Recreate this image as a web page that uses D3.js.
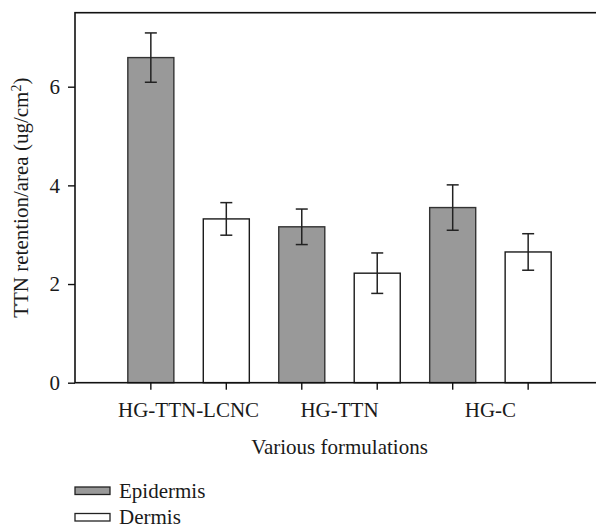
<!DOCTYPE html>
<head>
  <meta charset="utf-8">
  <title>TTN retention</title>
  <script src="https://cdn.jsdelivr.net/npm/d3@7/dist/d3.min.js"></script>
  <style>
    body { margin: 0; background: #fff; }
    text { font-family: "Liberation Serif", "Times New Roman", serif; fill: #1a1a1a; }
  </style>
</head>

<body>
  <script type="text/javascript">
    var WIDTH = 596;
    var HEIGHT = 528;

    // data
    var groups = ["HG-TTN-LCNC", "HG-TTN", "HG-C"];
    var layers = ["Epidermis", "Dermis"];
    var epidermis = [6.59, 3.16, 3.55];
    var epidermisErr = [0.50, 0.36, 0.46];
    var dermis = [3.32, 2.22, 2.65];
    var dermisErr = [0.33, 0.41, 0.37];
    var yTicks = [0, 2, 4, 6];

    var fills = { "Epidermis": "#999999", "Dermis": "#ffffff" };
    var strokes = { "Epidermis": "#333333", "Dermis": "#1a1a1a" };

    // one row per bar, group by group
    var bars = [];
    groups.forEach(function(g, i) {
      bars.push({ group: g, layer: "Epidermis", key: g + "|E", value: epidermis[i], err: epidermisErr[i] });
      bars.push({ group: g, layer: "Dermis", key: g + "|D", value: dermis[i], err: dermisErr[i] });
    });

    var plotL = 75, plotR = 604, plotT = 12.7, plotB = 382.7;

    var svg = d3.select("body").append("svg")
                .attr("width", WIDTH)
                .attr("height", HEIGHT);

    var x = d3.scaleBand()
              .domain(bars.map(function(d){ return d.key; }))
              .range([plotL, plotR])
              .paddingInner(0.39)
              .paddingOuter(0.7);

    var y = d3.scaleLinear()
              .domain([0, 7.5])
              .range([plotB, plotT]);

    //bars
    svg.selectAll("rect.bar")
       .data(bars)
       .enter().append("rect")
       .attr("class", "bar")
       .attr("x", function(d){ return x(d.key); })
       .attr("y", function(d){ return y(d.value); })
       .attr("width", x.bandwidth())
       .attr("height", function(d){ return y(0) - y(d.value); })
       .attr("fill", function(d){ return fills[d.layer]; })
       .attr("stroke", function(d){ return strokes[d.layer]; })
       .attr("stroke-width", 1.4);

    //error bars
    var cap = 6;
    var eb = svg.selectAll("g.err")
                .data(bars)
                .enter().append("g")
                .attr("class", "err")
                .attr("stroke", "#222")
                .attr("stroke-width", 1.5);
    function cx(d){ return x(d.key) + x.bandwidth() / 2; }
    eb.append("line")
      .attr("x1", cx).attr("x2", cx)
      .attr("y1", function(d){ return y(d.value + d.err); })
      .attr("y2", function(d){ return y(d.value - d.err); });
    eb.append("line")
      .attr("x1", function(d){ return cx(d) - cap; })
      .attr("x2", function(d){ return cx(d) + cap; })
      .attr("y1", function(d){ return y(d.value + d.err); })
      .attr("y2", function(d){ return y(d.value + d.err); });
    eb.append("line")
      .attr("x1", function(d){ return cx(d) - cap; })
      .attr("x2", function(d){ return cx(d) + cap; })
      .attr("y1", function(d){ return y(d.value - d.err); })
      .attr("y2", function(d){ return y(d.value - d.err); });

    //frame
    svg.append("rect")
       .attr("x", plotL).attr("y", plotT)
       .attr("width", plotR - plotL).attr("height", plotB - plotT)
       .attr("fill", "none")
       .attr("stroke", "#111")
       .attr("stroke-width", 1.6);

    //axes
    var yAxis = d3.axisLeft(y).tickValues(yTicks).tickSize(7).tickSizeOuter(0).tickPadding(8);
    var gy = svg.append("g").attr("transform", "translate(" + plotL + ",0)").call(yAxis);
    var xAxis = d3.axisBottom(x).tickSize(7).tickSizeOuter(0).tickFormat("");
    var gx = svg.append("g").attr("transform", "translate(0," + plotB + ")").call(xAxis);

    [gy, gx].forEach(function(g) {
      g.select(".domain").remove();
      g.selectAll(".tick line").attr("stroke", "#111").attr("stroke-width", 1.4);
      g.selectAll("text").attr("font-size", 21).attr("fill", "#1a1a1a")
       .attr("font-family", "'Liberation Serif', 'Times New Roman', serif");
    });

    //category labels, centred on each pair
    svg.selectAll("text.cat")
       .data(groups)
       .enter().append("text")
       .attr("class", "cat")
       .attr("x", function(g){
         return (x(g + "|E") + x(g + "|D") + x.bandwidth()) / 2;
       })
       .attr("y", 416.5)
       .attr("text-anchor", "middle")
       .attr("font-size", 21)
       .text(function(g){ return g; });

    svg.append("text")
       .attr("x", (plotL + plotR) / 2)
       .attr("y", 453.5)
       .attr("text-anchor", "middle")
       .attr("font-size", 21)
       .text("Various formulations");

    var yt = svg.append("text")
       .attr("transform", "translate(28," + ((plotT + plotB) / 2) + ") rotate(-90)")
       .attr("text-anchor", "middle")
       .attr("font-size", 21);
    yt.append("tspan").text("TTN retention/area (ug/cm");
    yt.append("tspan").attr("baseline-shift", "super").attr("font-size", 14).text("2");
    yt.append("tspan").text(")");

    //legend
    var lg = svg.selectAll("g.legend")
                .data(layers)
                .enter().append("g")
                .attr("class", "legend")
                .attr("transform", function(d, i){ return "translate(75," + (487 + i * 26.5) + ")"; });
    lg.append("rect")
      .attr("width", 35).attr("height", 7.5)
      .attr("fill", function(d){ return fills[d]; })
      .attr("stroke", "#222")
      .attr("stroke-width", 1.3);
    lg.append("text")
      .attr("x", 44).attr("y", 10.5)
      .attr("font-size", 21)
      .text(function(d){ return d; });
  </script>
</body>
